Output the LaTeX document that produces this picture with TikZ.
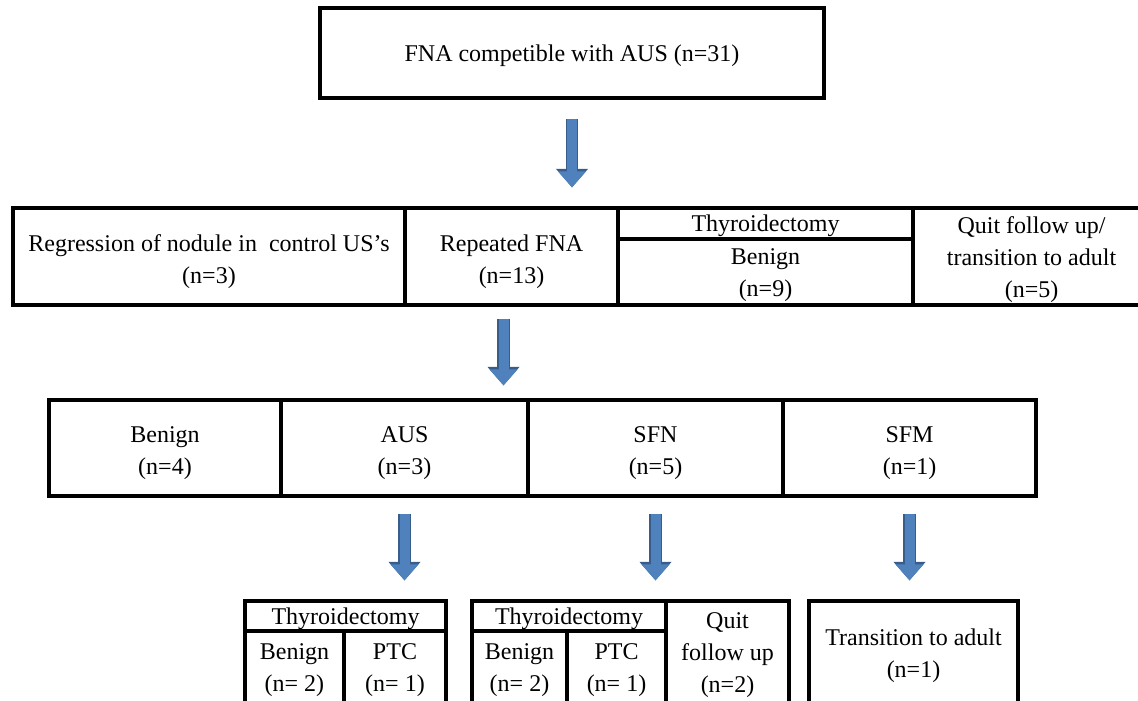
\documentclass[tikz,border=0pt]{standalone}
\usepackage{fontspec}
\setmainfont{Liberation Serif}
\usetikzlibrary{arrows.meta}
\definecolor{arrowblue}{RGB}{79,129,189}
\definecolor{arrowedge}{RGB}{56,93,138}
\newcommand{\cellstrut}[1][13.5pt]{\rule{0pt}{#1}}

\begin{document}
\begin{tikzpicture}[
        x=0.5pt, y=-0.5pt,
        cell/.style={rectangle, draw=black, line width=1.6pt, inner sep=0pt, align=center,
            font=\fontsize{12}{16}\selectfont},
        textdown/.style={text depth=-#1},
        textdown/.default=3.4pt,
        flowarrow/.style={draw=arrowblue, line width=5pt, -{Triangle[width=13.5pt,length=8pt]},
            preaction={draw=arrowedge, line width=6.4pt, -{Triangle[width=15.5pt,length=9.3pt]}}}
    ]
    \useasboundingbox (0,0) rectangle (1138,700);

    % top box
    \node[cell, textdown=3pt, minimum width=252pt, minimum height=45pt] (fna) at (572,53) {FNA competible with AUS (n=31)};

    % first outcome row
    \node[cell, minimum width=196pt, minimum height=48.5pt] (regr) at (209,256.5) {\cellstrut Regression of nodule in\ \ control US’s\\(n=3)};
    \node[cell, minimum width=106.5pt, minimum height=48.5pt] (rep) at (511.5,256.5) {\cellstrut Repeated FNA\\(n=13)};
    \node[cell, textdown, minimum width=147.5pt, minimum height=15.5pt] (thyr) at (765.5,223.5) {Thyroidectomy};
    \node[cell, minimum width=147.5pt, minimum height=33pt] (ben9) at (765.5,272) {\cellstrut[11.5pt]Benign\\(n=9)};
    \node[cell, minimum width=118.5pt, minimum height=48.5pt] (quit) at (1031.5,256.5) {\cellstrut[11.5pt]Quit follow up/\\transition\ to adult\\(n=5)};

    % repeated FNA results
    \node[cell, minimum width=116pt, minimum height=48pt] (ben4) at (165,448) {\cellstrut Benign\\(n=4)};
    \node[cell, minimum width=123.5pt, minimum height=48pt] (aus3) at (404.5,448) {\cellstrut AUS\\(n=3)};
    \node[cell, minimum width=127.5pt, minimum height=48pt] (sfn5) at (655.5,448) {\cellstrut SFN\\(n=5)};
    \node[cell, minimum width=126.5pt, minimum height=48pt] (sfm1) at (909.5,448) {\cellstrut SFM\\(n=1)};

    % final outcomes
    \node[cell, textdown, minimum width=100.5pt, minimum height=15pt] (thyA) at (345.5,616) {Thyroidectomy};
    \node[cell, minimum width=49.5pt, minimum height=39.5pt] (benA) at (294.5,670.5) {Benign\\(n= 2)};
    \node[cell, minimum width=51pt, minimum height=39.5pt] (ptcA) at (395,670.5) {PTC\\(n= 1)};

    \node[cell, textdown, minimum width=97pt, minimum height=15pt] (thyB) at (569,616) {Thyroidectomy};
    \node[cell, minimum width=47.5pt, minimum height=39.5pt] (benB) at (519.5,670.5) {Benign\\(n= 2)};
    \node[cell, minimum width=49.5pt, minimum height=39.5pt] (ptcB) at (616.5,670.5) {PTC\\(n= 1)};
    \node[cell, minimum width=61.5pt, minimum height=54.5pt] (quitB) at (727.5,655.5) {Quit\\follow up\\(n=2)};

    \node[cell, minimum width=104.5pt, minimum height=54.5pt] (trans) at (913.5,655.5) {Transition\ to adult\\(n=1)};

    % arrows
    \coordinate (a2) at ([xshift=-4pt]rep.south);
    \draw[flowarrow, shorten <=9.5pt, shorten >=9.5pt] (fna.south) -- (fna.south |- rep.north);
    \draw[flowarrow, shorten <=6pt, shorten >=6.5pt] (a2) -- (a2 |- aus3.north);
    \draw[flowarrow, shorten <=8pt, shorten >=9.5pt] (aus3.south) -- (aus3.south |- thyA.north);
    \draw[flowarrow, shorten <=8pt, shorten >=9.5pt] (sfn5.south) -- (sfn5.south |- thyB.north);
    \draw[flowarrow, shorten <=8pt, shorten >=9.5pt] (sfm1.south) -- (sfm1.south |- trans.north);
\end{tikzpicture}
\end{document}
